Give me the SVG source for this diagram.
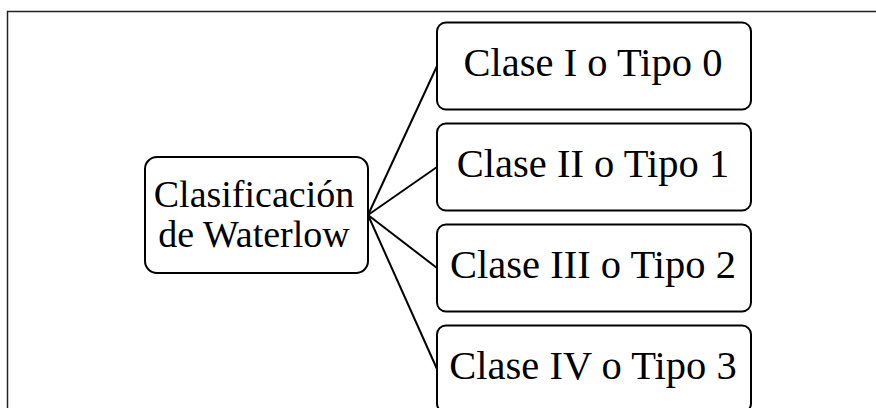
<svg xmlns="http://www.w3.org/2000/svg" width="876" height="408" viewBox="0 0 876 408">
<style>
.box{fill:#fff;stroke:#000;stroke-width:2}
.lbl{font-family:"Liberation Serif","Times New Roman",serif;font-size:40.5px;fill:#000;text-anchor:middle}
.ctr{font-size:38px}
.conn line{stroke:#000;stroke-width:2}
.frame{fill:none;stroke:#222;stroke-width:1.5}
</style>
<rect width="876" height="408" fill="#fff"/>
<path class="frame" d="M7.5,408 V11.5 H876"/>
<g class="conn" id="connectors">
<line x1="368" y1="215" x2="437" y2="66"/>
<line x1="368" y1="215" x2="437" y2="167"/>
<line x1="368" y1="215" x2="437" y2="268"/>
<line x1="368" y1="215" x2="437" y2="369"/>
</g>
<g id="root">
<rect class="box" x="145" y="157" width="223" height="116" rx="12"/>
<text class="lbl ctr" x="254" y="206.5">Clasificación</text>
<text class="lbl ctr" x="254" y="246.5">de Waterlow</text>
</g>
<g id="n0">
<rect class="box" x="437" y="22.5" width="314" height="87" rx="9"/>
<text class="lbl" x="593" y="76">Clase I o Tipo 0</text>
</g>
<g id="n1">
<rect class="box" x="437" y="123.5" width="314" height="87" rx="9"/>
<text class="lbl" x="593" y="177">Clase II o Tipo 1</text>
</g>
<g id="n2">
<rect class="box" x="437" y="224.5" width="314" height="87" rx="9"/>
<text class="lbl" x="593" y="278">Clase III o Tipo 2</text>
</g>
<g id="n3">
<rect class="box" x="437" y="325.5" width="314" height="87" rx="9"/>
<text class="lbl" x="593" y="379">Clase IV o Tipo 3</text>
</g>
</svg>
